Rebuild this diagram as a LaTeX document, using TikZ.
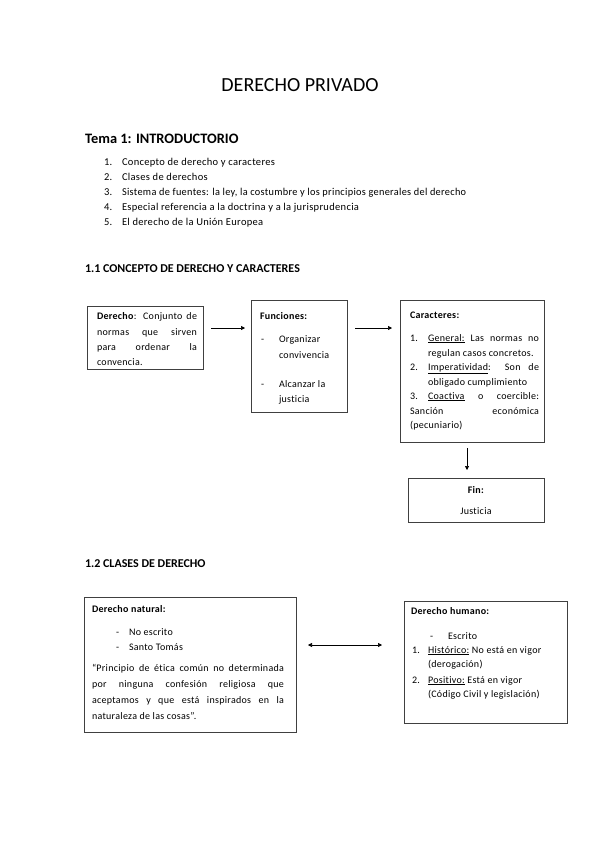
\documentclass[tikz,border=0pt]{standalone}
\usepackage{fontspec}
\setmainfont{Carlito}[LetterSpace=3,Ligatures=CommonOff]
\newfontfamily\plainf{Carlito}[Ligatures=CommonOff]
\usetikzlibrary{arrows.meta,calc}
\begin{document}
\begin{tikzpicture}[x=1pt,y=-1pt,
  t/.style={anchor=base west, inner sep=0pt, outer sep=0pt, font=\fontsize{10}{12}\selectfont},
  li/.style={anchor=base west, inner sep=0pt, outer sep=0pt, font=\fontsize{10.5}{12}\selectfont},
  tc/.style={anchor=base, inner sep=0pt, outer sep=0pt, font=\fontsize{10}{12}\selectfont},
  hd/.style={anchor=base west, inner sep=0pt, outer sep=0pt, font=\plainf\bfseries\fontsize{12}{14}\selectfont},
  bx/.style={draw=black!75, line width=0.8pt, anchor=north west, inner sep=0pt, outer sep=0pt},
  arr/.style={line width=0.6pt, -{Triangle[length=4pt,width=4pt]}},
  darr/.style={line width=0.6pt, {Triangle[length=4pt,width=4pt]}-{Triangle[length=4pt,width=4pt]}}]
\fill[white] (0,0) rectangle (599,848);
\useasboundingbox (0,0) rectangle (599,848);

% title and intro
\node[anchor=base, inner sep=0pt, font=\plainf\fontsize{20}{22}\selectfont] (title) at (300,92) {DERECHO PRIVADO};
\node[anchor=base west, inner sep=0pt, font=\plainf\bfseries\fontsize{14.4}{16}\selectfont] (tema) at (85,143.5) {Tema 1: INTRODUCTORIO};
\node[li] (n1) at (104,165) {1.};
\node[li] (l1) at (122,165) {Concepto de derecho y caracteres};
\node[li] (n2) at (104,180) {2.};
\node[li] (l2) at (122,180) {Clases de derechos};
\node[li] (n3) at (104,195) {3.};
\node[li] (l3) at (122,195) {\scalebox{0.98}[1]{Sistema de fuentes: la ley, la costumbre y los principios generales del derecho}};
\node[li] (n4) at (104,210) {4.};
\node[li] (l4) at (122,210) {Especial referencia a la doctrina y a la jurisprudencia};
\node[li] (n5) at (104,225) {5.};
\node[li] (l5) at (122,225) {El derecho de la Unión Europea};

\node[hd] (h11) at (85,272) {1.1 CONCEPTO DE DERECHO Y CARACTERES};

% boxes section 1.1
\node[bx, minimum width=116pt, minimum height=63pt] (der) at (87,306) {};
\node[bx, minimum width=96pt, minimum height=112pt] (fun) at (251,300) {};
\node[bx, minimum width=144pt, minimum height=142pt] (car) at (400,300) {};
\node[bx, minimum width=136pt, minimum height=44pt] (fin) at (408,478) {};

% Derecho
\node[t] (d1) at (97,319) {\makebox[100pt][s]{\textbf{Derecho}: Conjunto de}};
\node[t] (d2) at (97,335) {\makebox[100pt][s]{normas que sirven}};
\node[t] (d3) at (97,350) {\makebox[100pt][s]{para ordenar la}};
\node[t] (d4) at (97,365) {convencia.};

% Funciones
\node[t] (f0) at (260,319) {\textbf{Funciones:}};
\node[t] (f1d) at (261,342) {-};
\node[t] (f1) at (279,342) {Organizar};
\node[t] (f1b) at (279,358) {convivencia};
\node[t] (f2d) at (261,387) {-};
\node[t] (f2) at (279,387) {Alcanzar la};
\node[t] (f2b) at (279,402) {justicia};

% Caracteres
\node[t] (c0) at (410,318) {\textbf{Caracteres:}};
\node[t] (c1n) at (410,341) {1.};
\node[t] (c1) at (428,341) {\makebox[111pt][s]{\underline{General:} Las normas no}};
\node[t] (c1b) at (428,356) {regulan casos concretos.};
\node[t] (c2n) at (410,370) {2.};
\node[t] (c2) at (428,370) {\makebox[111pt][s]{\underline{Imperatividad}: Son de}};
\node[t] (c2b) at (428,385) {obligado cumplimiento};
\node[t] (c3n) at (410,399) {3.};
\node[t] (c3) at (428,399) {\makebox[111pt][s]{\underline{Coactiva} o coercible:}};
\node[t] (c3b) at (410,414) {\makebox[129pt][s]{Sanción económica}};
\node[t] (c3c) at (410,428) {(pecuniario)};

% Fin
\node[tc] (fi0) at (476,493) {\textbf{Fin:}};
\node[tc] (fi1) at (476,514) {Justicia};

\draw[arr, shorten <=8pt, shorten >=6pt] ($(der.north east)+(0,22)$) -- ($(fun.north west)+(0,28)$);
\draw[arr, shorten <=8pt, shorten >=8pt] ($(fun.north east)+(0,28)$) -- ($(car.north west)+(0,28)$);
\draw[arr, shorten <=6pt, shorten >=8pt] ($(car.south west)+(67,0)$) -- ($(fin.north west)+(59,0)$);

% section 1.2
\node[hd] (h12) at (85,567.5) {1.2 CLASES DE DERECHO};

\node[bx, minimum width=212pt, minimum height=135pt] (nat) at (84,597) {};
\node[bx, minimum width=163pt, minimum height=122pt] (hum) at (404,601) {};

\node[t] (na0) at (92,612) {\textbf{Derecho natural:}};
\node[t] (na1d) at (116,635) {-};
\node[t] (na1) at (129,635) {No escrito};
\node[t] (na2d) at (116,650) {-};
\node[t] (na2) at (129,650) {Santo Tomás};
\node[t] (na3) at (92,671) {\makebox[192pt][s]{“Principio de ética común no determinada}};
\node[t] (na4) at (92,687) {\makebox[192pt][s]{por ninguna confesión religiosa que}};
\node[t] (na5) at (92,703) {\makebox[192pt][s]{aceptamos y que está inspirados en la}};
\node[t] (na6) at (92,719) {naturaleza de las cosas”.};

\node[t] (hu0) at (411,614) {\textbf{Derecho humano:}};
\node[t] (hu1d) at (430,639) {-};
\node[t] (hu1) at (448,639) {Escrito};
\node[t] (hu2n) at (412,653) {1.};
\node[t] (hu2) at (428,653) {\underline{Histórico:} No está en vigor};
\node[t] (hu2b) at (428,667) {(derogación)};
\node[t] (hu3n) at (412,683) {2.};
\node[t] (hu3) at (428,683) {\underline{Positivo:} Está en vigor};
\node[t] (hu3b) at (428,697) {(Código Civil y legislación)};

\draw[darr, shorten <=12pt, shorten >=22pt] ($(nat.north east)+(0,48)$) -- ($(hum.north west)+(0,44)$);
\end{tikzpicture}
\end{document}
